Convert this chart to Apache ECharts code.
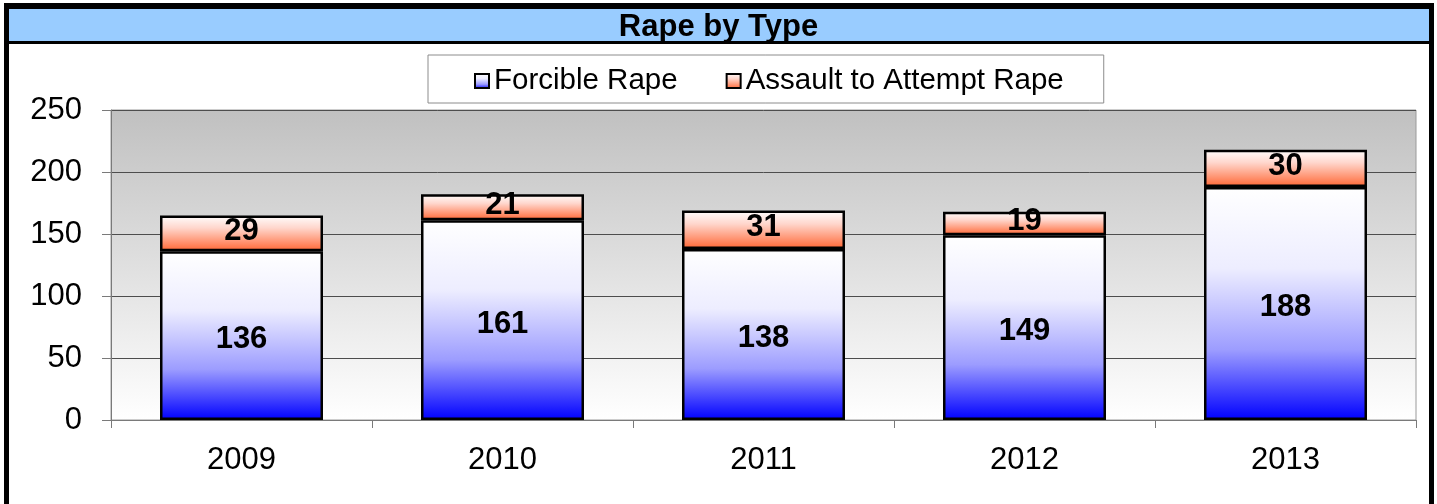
<!DOCTYPE html>
<html>
<head>
<meta charset="utf-8">
<script src="https://cdn.jsdelivr.net/npm/echarts@6/dist/echarts.min.js"></script>
<style>
  html, body { margin: 0; padding: 0; background: #fff; }
  #chart { width: 1437px; height: 504px; }
</style>
</head>
<body>
<div id="chart"></div>
<script>
// datos
const years = ['2009', '2010', '2011', '2012', '2013'];
const forcible = [136, 161, 138, 149, 188];
const assault = [29, 21, 31, 19, 30];
const yTicks = [0, 50, 100, 150, 200, 250];

const fuente = '"Liberation Sans", Arial, sans-serif';

function grad(top, mid1, mid2, bottom) {
    return new echarts.graphic.LinearGradient(0, 0, 0, 1, [
        { offset: 0, color: top },
        { offset: 0.35, color: mid1 },
        { offset: 0.7, color: mid2 },
        { offset: 1, color: bottom }
    ]);
}

const chart = echarts.init(document.getElementById('chart'));
chart.setOption({
    animation: false,
    textStyle: { fontFamily: fuente },
    graphic: [
        { type: 'rect', shape: { x: 4, y: 3, width: 1430, height: 41 }, style: { fill: '#000' }, z: 0 },
        { type: 'rect', shape: { x: 9, y: 9, width: 1420, height: 32 }, style: { fill: '#99ccff' }, z: 1 },
        { type: 'rect', shape: { x: 4, y: 3, width: 5, height: 501 }, style: { fill: '#000' }, z: 1 },
        { type: 'rect', shape: { x: 1429, y: 3, width: 5, height: 501 }, style: { fill: '#000' }, z: 1 },
        {
            type: 'text', left: 'center', top: 12, z: 2,
            style: { text: 'Rape by Type', font: 'bold 31px ' + fuente, fill: '#000' }
        }
    ],
    legend: {
        data: ['Forcible Rape', 'Assault to Attempt Rape'],
        left: 428, top: 55,
        padding: [11, 40, 7, 46],
        itemGap: 48,
        itemWidth: 14, itemHeight: 14,
        icon: 'rect',
        backgroundColor: '#fff',
        borderColor: '#8c8c8c', borderWidth: 1,
        textStyle: { fontSize: 29.5, color: '#000' }
    },
    grid: {
        left: 111, top: 110, right: 21, bottom: 84,
        show: true,
        backgroundColor: new echarts.graphic.LinearGradient(0, 0, 0, 1, [
            { offset: 0, color: '#c0c0c0' },
            { offset: 1, color: '#ffffff' }
        ]),
        borderColor: '#9a9a9a', borderWidth: 1
    },
    xAxis: {
        type: 'category',
        data: years,
        axisLine: { lineStyle: { color: '#7a7a7a', width: 1 } },
        axisTick: { show: true, length: 8, lineStyle: { color: '#7a7a7a' } },
        axisLabel: { fontSize: 31, color: '#000', margin: 25 }
    },
    yAxis: {
        type: 'value',
        min: yTicks[0], max: yTicks[yTicks.length - 1], interval: 50,
        axisLine: { show: true, lineStyle: { color: '#7a7a7a' } },
        axisTick: { show: true, length: 9, lineStyle: { color: '#7a7a7a' } },
        axisLabel: { fontSize: 31, color: '#000', margin: 29 },
        splitLine: { lineStyle: { color: '#4d4d4d', width: 1 } }
    },
    series: [
        {
            name: 'Forcible Rape',
            type: 'bar', stack: 'total',
            barWidth: 163,
            data: forcible,
            itemStyle: {
                color: grad('#ffffff', '#ededff', '#9c9cff', '#0000ff'),
                borderColor: '#000', borderWidth: 2.5
            },
            label: { show: true, position: 'inside', offset: [0, 4], fontSize: 31, fontWeight: 'bold', color: '#000' }
        },
        {
            name: 'Assault to Attempt Rape',
            type: 'bar', stack: 'total',
            barWidth: 163,
            data: assault,
            itemStyle: {
                color: grad('#ffffff', '#ffd6cc', '#ff9a7a', '#ff6633'),
                borderColor: '#000', borderWidth: 2.5
            },
            label: { show: true, position: 'inside', offset: [0, -2], fontSize: 31, fontWeight: 'bold', color: '#000' }
        }
    ]
});
</script>
</body>
</html>
